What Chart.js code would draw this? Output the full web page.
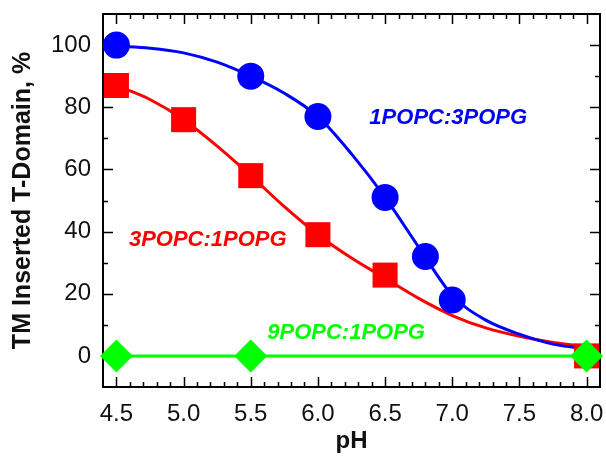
<!DOCTYPE html>
<html>
<head>
<meta charset="utf-8">
<script src="https://cdn.jsdelivr.net/npm/chart.js@4"></script>
<style>
  html, body { margin: 0; padding: 0; background: #fff; overflow: hidden; }
  canvas { display: block; }
</style>
</head>
<body>
<canvas id="phChart" width="606" height="456"></canvas>
<script>
// measured points
const bluePH = [4.5, 5.5, 6.0, 6.5, 6.8, 7.0];
const blueVal = [100, 90, 77, 51, 32, 18];
const redPH = [4.5, 5.0, 5.5, 6.0, 6.5, 8.0];
const redVal = [87, 76, 58, 39, 26, 0];
const greenPH = [4.5, 5.5, 8.0];
const greenVal = [0, 0, 0];

// fitted curves
const fitPH = [4.5, 4.75, 5.0, 5.25, 5.5, 5.75, 6.0, 6.25, 6.5, 6.75, 7.0, 7.25, 7.5, 7.75, 8.0];
const blueFit = [99.6, 99, 97.5, 94.5, 90, 84.5, 77, 65, 51, 35, 19.5, 11.5, 7, 3.8, 2.2];
const redFit = [87, 82.5, 76, 67.5, 58, 48, 39, 31.5, 25, 18.5, 13, 9, 6.3, 4.3, 3];

const xTicks = [4.5, 5.0, 5.5, 6.0, 6.5, 7.0, 7.5, 8.0];
const yTicks = [0, 20, 40, 60, 80, 100];
const seriesNames = ['1POPC:3POPG', '3POPC:1POPG', '9POPC:1POPG'];

const BLUE = '#0000ff', RED = '#ff0000', GREEN = '#00ff00';
const FONT = "'Liberation Sans', Arial, sans-serif";

const pts = (xs, ys) => xs.map((x, i) => ({ x: x, y: ys[i] }));

// label anchors in data units
const notes = [
    { text: seriesNames[0], x: 6.97, y: 76.5, color: BLUE },
    { text: seriesNames[1], x: 5.18, y: 37.3, color: RED },
    { text: seriesNames[2], x: 6.21, y: 7.4, color: GREEN }
];

const framePlugin = {
    id: 'frame',
    beforeDatasetsDraw(chart) {
        const { ctx, chartArea: a, scales: { x, y } } = chart;
        ctx.save();
        ctx.strokeStyle = '#000';
        ctx.lineWidth = 2;
        ctx.strokeRect(a.left, a.top, a.right - a.left, a.bottom - a.top);
        ctx.lineWidth = 1.5;
        ctx.beginPath();
        for (let v = 4.5; v <= 8.05; v += 0.1) {
            const px = Math.round(x.getPixelForValue(v)) + 0.5;
            const major = Math.abs(v * 2 - Math.round(v * 2)) < 1e-6;
            const len = major ? 10 : 5;
            ctx.moveTo(px, a.bottom); ctx.lineTo(px, a.bottom - len);
            ctx.moveTo(px, a.top); ctx.lineTo(px, a.top + len);
        }
        for (let v = 0; v <= 100; v += 10) {
            const py = Math.round(y.getPixelForValue(v)) + 0.5;
            const len = v % 20 === 0 ? 10 : 5;
            ctx.moveTo(a.left, py); ctx.lineTo(a.left + len, py);
            ctx.moveTo(a.right, py); ctx.lineTo(a.right - len, py);
        }
        ctx.stroke();
        ctx.restore();
    },
    afterDatasetsDraw(chart) {
        const { ctx, scales: { x, y } } = chart;
        ctx.save();
        ctx.font = 'italic bold 22px ' + FONT;
        ctx.textAlign = 'center';
        ctx.textBaseline = 'middle';
        notes.forEach(n => {
            ctx.fillStyle = n.color;
            ctx.fillText(n.text, x.getPixelForValue(n.x), y.getPixelForValue(n.y));
        });
        ctx.restore();
    }
};

document.addEventListener('DOMContentLoaded', () => {
    const c = document.getElementById('phChart');
    new Chart(c, {
        type: 'scatter',
        data: {
            datasets: [
                { label: seriesNames[2], data: pts(greenPH, greenVal), showLine: true,
                  borderColor: GREEN, borderWidth: 3, backgroundColor: GREEN,
                  pointStyle: 'rectRot', pointRadius: 16.5, pointBorderWidth: 0, clip: false },
                { label: seriesNames[0], data: pts(bluePH, blueVal),
                  backgroundColor: BLUE, borderColor: BLUE,
                  pointStyle: 'circle', pointRadius: 13.5, pointBorderWidth: 0, clip: false },
                { label: seriesNames[1], data: pts(redPH, redVal),
                  backgroundColor: RED, borderColor: RED,
                  pointStyle: 'rect', pointRadius: 17.7, pointBorderWidth: 0, clip: false },
                { label: 'fit blue', data: pts(fitPH, blueFit), showLine: true,
                  borderColor: BLUE, borderWidth: 3, pointRadius: 0,
                  cubicInterpolationMode: 'monotone', clip: false },
                { label: 'fit red', data: pts(fitPH, redFit), showLine: true,
                  borderColor: RED, borderWidth: 3, pointRadius: 0,
                  cubicInterpolationMode: 'monotone', clip: false }
            ]
        },
        options: {
            responsive: false,
            animation: false,
            layout: { autoPadding: false, padding: { left: 0, right: 6, top: 14, bottom: 0 } },
            plugins: { legend: { display: false }, tooltip: { enabled: false } },
            scales: {
                x: {
                    type: 'linear', min: 4.4, max: 8.1,
                    afterBuildTicks: s => { s.ticks = xTicks.map(v => ({ value: v })); },
                    afterFit: s => { s.height = 69; s.paddingLeft = 0; s.paddingRight = 0; },
                    grid: { display: false, drawTicks: false },
                    border: { display: false },
                    ticks: { color: '#111', padding: 13, font: { family: FONT, size: 24 },
                             callback: v => Number(v).toFixed(1) },
                    title: { display: true, text: 'pH', color: '#111',
                             font: { family: FONT, size: 24, weight: 'bold' },
                             padding: { top: 0, bottom: 0 } }
                },
                y: {
                    min: -10, max: 110,
                    afterBuildTicks: s => { s.ticks = yTicks.map(v => ({ value: v })); },
                    afterFit: s => { s.width = 103; s.paddingTop = 0; s.paddingBottom = 0; },
                    grid: { display: false, drawTicks: false },
                    border: { display: false },
                    ticks: { color: '#111', padding: 12, font: { family: FONT, size: 24 } },
                    title: { display: true, text: 'TM Inserted T-Domain, %', color: '#111',
                             font: { family: FONT, size: 25, weight: 'bold' },
                             padding: { top: 8, bottom: 0 } }
                }
            }
        },
        plugins: [framePlugin]
    });
});
</script>
</body>
</html>
